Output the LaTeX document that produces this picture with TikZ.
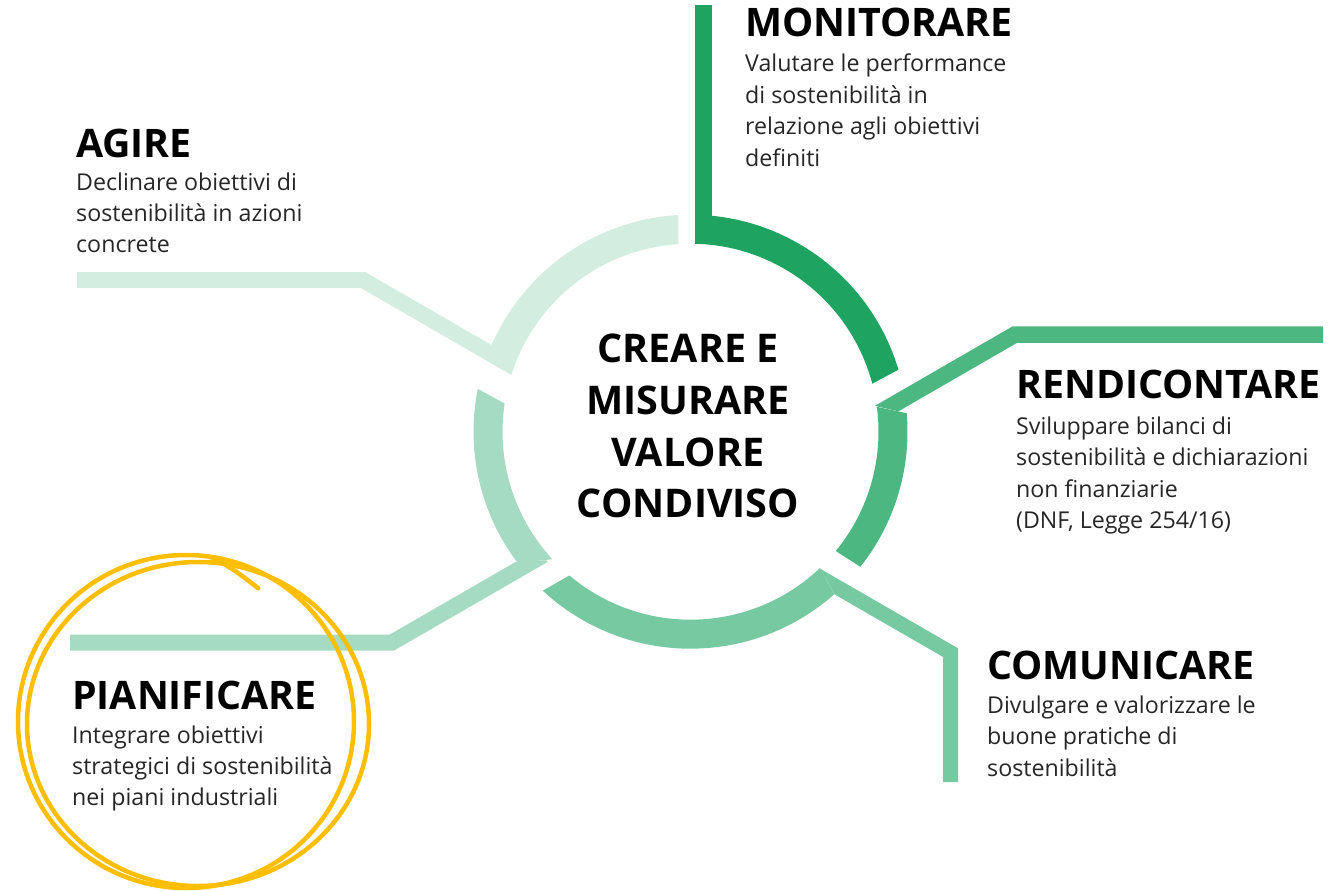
\documentclass[tikz,border=0pt]{standalone}
\usepackage{fontspec}
\setmainfont{Open Sans}
\usetikzlibrary{calc}
\definecolor{cMon}{HTML}{1FA360}
\definecolor{cRen}{HTML}{4CB781}
\definecolor{cCom}{HTML}{76C9A1}
\definecolor{cPia}{HTML}{A5DBC3}
\definecolor{cAgi}{HTML}{D3EDE0}
\definecolor{cYel}{HTML}{FFBE00}
\newcommand\ringseg[5]{%
  \fill[#1] ($(C)+(#2:217)$) arc[start angle=#2, end angle=#3, radius=217]
    -- ($(C)+(#4:188)$) arc[start angle=#4, end angle=#5, radius=188] -- cycle;}
\begin{document}
\begin{tikzpicture}[x=1pt,y=1pt,
  ttl/.style={anchor=base west, inner sep=0pt, font=\fontsize{39.3}{40}\selectfont\bfseries},
  bdy/.style={anchor=base west, inner sep=0pt, text=black!85, font=\fontsize{23.2}{28}\selectfont},
  ctr/.style={anchor=base, inner sep=0pt, font=\fontsize{39.5}{40}\selectfont\bfseries},
  conn/.style={line width=16pt, line cap=butt, line join=miter},
  yel/.style={draw=cYel, line width=4.5pt, line cap=round}]
\useasboundingbox (0,0) rectangle (1333,-891);
\coordinate (C) at (690.5,-431.7);

% ring segments
\ringseg{cMon}{88.8}{16.6}{14.8}{88.6}
\ringseg{cRen}{4.9}{-38.5}{-39.4}{7.6}
\ringseg{cCom}{-48.5}{-132.9}{-130.1}{-46.5}
\ringseg{cPia}{217.3}{168.6}{171.4}{222.7}
\ringseg{cAgi}{156.4}{93.2}{93.7}{162.4}

% connectors
\coordinate (m1) at (703.5,-5);
\coordinate (m2) at (703.5,-232);
\draw[conn, line width=17pt, cMon] (m1) -- (m2);

\coordinate (a1) at (77,-280);
\coordinate (a2) at (363,-280);
\coordinate (a3) at (515,-367.8);
\begin{scope}
  \clip (0,0) -- (261.7,0) -- (595,-500) -- (0,-500) -- cycle;
  \draw[conn, cAgi] (a1) -- (a2) -- (a3);
\end{scope}

\coordinate (r1) at (1323,-334.5);
\coordinate (r2) at (1015,-334.5);
\coordinate (r3) at (870,-418.2);
\begin{scope}
  \clip (850,-400.1) -- (950,-423.3) -- (1333,-423.3) -- (1333,-300) -- (850,-300) -- cycle;
  \draw[conn, line width=16.5pt, cRen] (r1) -- (r2) -- (r3);
\end{scope}

\coordinate (p1) at (70,-642.5);
\coordinate (p2) at (392,-642.5);
\coordinate (p3) at (543.6,-555);
\begin{scope}
  \clip (0,-590) -- (300,-573.5) -- (600,-557.4) -- (600,-700) -- (0,-700) -- cycle;
  \draw[conn, cPia] (p1) -- (p2) -- (p3);
\end{scope}

\coordinate (k1) at (815,-574.4);
\coordinate (k2) at (950.5,-652.6);
\coordinate (k3) at (950.5,-782);
\begin{scope}
  \clip (781.6,-500) -- (1333,-500) -- (1333,-891) -- (1001.3,-891) -- cycle;
  \draw[conn, line width=15pt, cCom] (k1) -- (k2) -- (k3);
\end{scope}

% centre text
\node[ctr] (c1) at (688,-362) {CREARE E};
\node[ctr] (c2) at (688,-414) {MISURARE};
\node[ctr] (c3) at (688,-466) {VALORE};
\node[ctr] (c4) at (688,-517.5) {CONDIVISO};

% MONITORARE
\node[ttl] (mt) at (745,-37) {MONITORARE};
\node[bdy] (mb1) at (745,-72) {Valutare le performance};
\node[bdy] (mb2) at (745,-103.4) {di sostenibilità in};
\node[bdy] (mb3) at (745,-134.8) {relazione agli obiettivi};
\node[bdy] (mb4) at (745,-166.2) {definiti};

% AGIRE
\node[ttl] (at) at (76,-157) {AGIRE};
\node[bdy] (ab1) at (76,-190) {Declinare obiettivi di};
\node[bdy] (ab2) at (76,-221.4) {sostenibilità in azioni};
\node[bdy] (ab3) at (76,-252.8) {concrete};

% RENDICONTARE
\node[ttl] (rt) at (1016,-398.5) {RENDICONTARE};
\node[bdy] (rb1) at (1016,-434.5) {Sviluppare bilanci di};
\node[bdy] (rb2) at (1016,-465.9) {sostenibilità e dichiarazioni};
\node[bdy] (rb3) at (1016,-497.3) {non finanziarie};
\node[bdy] (rb4) at (1016,-528.7) {(DNF, Legge 254/16)};

% COMUNICARE
\node[ttl] (kt) at (987,-679) {COMUNICARE};
\node[bdy] (kb1) at (987,-713.5) {Divulgare e valorizzare le};
\node[bdy] (kb2) at (987,-744.9) {buone pratiche di};
\node[bdy] (kb3) at (987,-776.3) {sostenibilità};

% PIANIFICARE
\node[ttl] (pt) at (72,-709) {PIANIFICARE};
\node[bdy] (pb1) at (72,-743) {Integrare obiettivi};
\node[bdy] (pb2) at (72,-774) {strategici di sostenibilità};
\node[bdy] (pb3) at (72,-805) {nei piani industriali};

% yellow hand-drawn loops
\draw[yel] (186,-721.5) ellipse [x radius=168, y radius=166.5];
\draw[yel] (198,-724) ellipse [x radius=171, y radius=162];
\coordinate (y1) at (258.3,-588.3);
\coordinate (y2) at (212,-558);
\draw[yel] (y1) .. controls (245,-578) and (230,-566) .. (y2);
\end{tikzpicture}
\end{document}
